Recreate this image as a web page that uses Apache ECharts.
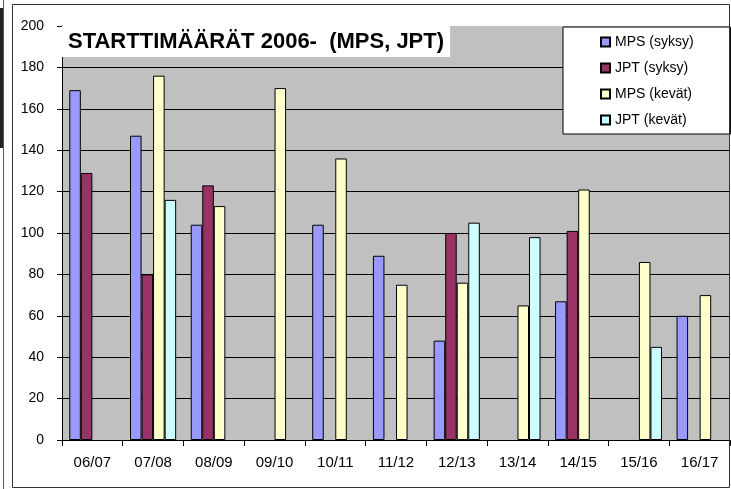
<!DOCTYPE html>
<html>
<head>
<meta charset="utf-8">
<style>
  html, body { margin: 0; padding: 0; background: #fff; }
  #chart { width: 731px; height: 489px; }
</style>
<script src="https://cdn.jsdelivr.net/npm/echarts@6/dist/echarts.min.js"></script>
</head>
<body>
<div id="chart"></div>
<script>
// kaudet
var seasons = ['06/07', '07/08', '08/09', '09/10', '10/11', '11/12', '12/13', '13/14', '14/15', '15/16', '16/17']
// startit per kausi, null = ei startteja
var mpsAutumn = [169, 147, 104, null, 104, 89, 48, null, 67, null, 60]
var jptAutumn = [129, 80, 123, null, null, null, 100, null, 101, null, null]
var mpsSpring = [null, 176, 113, 170, 136, 75, 76, 65, 121, 86, 70]
var jptSpring = [null, 116, null, null, null, null, 105, 98, null, 45, null]
var yTicks = [0, 20, 40, 60, 80, 100, 120, 140, 160, 180, 200]

var font = "'Liberation Sans', Arial, sans-serif"
var mycharts = echarts.init(document.getElementById('chart'))

function barSeries(name, data, color) {
  return {
    name: name,
    type: 'bar',
    data: data,
    barGap: '0%',
    barCategoryGap: '24%',
    itemStyle: {
      color: color,
      borderColor: '#000',
      borderWidth: 1
    },
    animation: false
  }
}

mycharts.setOption({
  textStyle: { fontFamily: font },
  title: {
    text: 'STARTTIMÄÄRÄT 2006-  (MPS, JPT)',
    left: 62,
    top: 26,
    backgroundColor: '#fff',
    padding: [5, 6, 4, 6],
    textStyle: {
      fontFamily: font,
      fontSize: 22,
      fontWeight: 'bold',
      color: '#000'
    }
  },
  legend: {
    orient: 'vertical',
    left: 563,
    top: 27,
    backgroundColor: '#fff',
    borderColor: '#000',
    borderWidth: 1,
    borderRadius: 0,
    padding: [8, 37, 7, 37],
    itemWidth: 9,
    itemHeight: 9,
    itemGap: 12,
    icon: 'rect',
    textStyle: {
      fontFamily: font,
      fontSize: 14,
      lineHeight: 14,
      color: '#000'
    },
    data: ['MPS (syksy)', 'JPT (syksy)', 'MPS (kevät)', 'JPT (kevät)']
  },
  grid: {
    left: 62,
    right: 1,
    top: 26,
    bottom: 49,
    show: true,
    backgroundColor: '#c0c0c0',
    borderWidth: 0
  },
  xAxis: {
    type: 'category',
    data: seasons,
    axisLine: { lineStyle: { color: '#000', width: 1 } },
    axisTick: { show: true, length: 6, lineStyle: { color: '#000' } },
    axisLabel: { fontFamily: font, fontSize: 15, color: '#000', margin: 15 }
  },
  yAxis: {
    type: 'value',
    min: yTicks[0],
    max: yTicks[yTicks.length - 1],
    interval: 20,
    axisLine: { show: true, lineStyle: { color: '#000', width: 1 } },
    axisTick: { show: true, length: 5, lineStyle: { color: '#000' } },
    axisLabel: { fontFamily: font, fontSize: 14, color: '#000', margin: 18 },
    splitLine: {
      show: true,
      showMaxLine: false,
      lineStyle: { color: '#000', width: 1 }
    }
  },
  graphic: [
    // reunat
    {
      type: 'rect',
      shape: { x: 12.5, y: 4.5, width: 717, height: 483 },
      style: { fill: null, stroke: '#333', lineWidth: 1 },
      z: 100
    },
    {
      type: 'line',
      shape: { x1: 3.5, y1: 0, x2: 3.5, y2: 489 },
      style: { stroke: '#555', lineWidth: 1 }
    },
    {
      type: 'rect',
      shape: { x: 0, y: 8, width: 3, height: 140 },
      style: { fill: '#222' }
    }
  ],
  series: [
    barSeries('MPS (syksy)', mpsAutumn, '#9999ff'),
    barSeries('JPT (syksy)', jptAutumn, '#993366'),
    barSeries('MPS (kevät)', mpsSpring, '#ffffcc'),
    barSeries('JPT (kevät)', jptSpring, '#ccffff')
  ]
})
</script>
</body>
</html>
